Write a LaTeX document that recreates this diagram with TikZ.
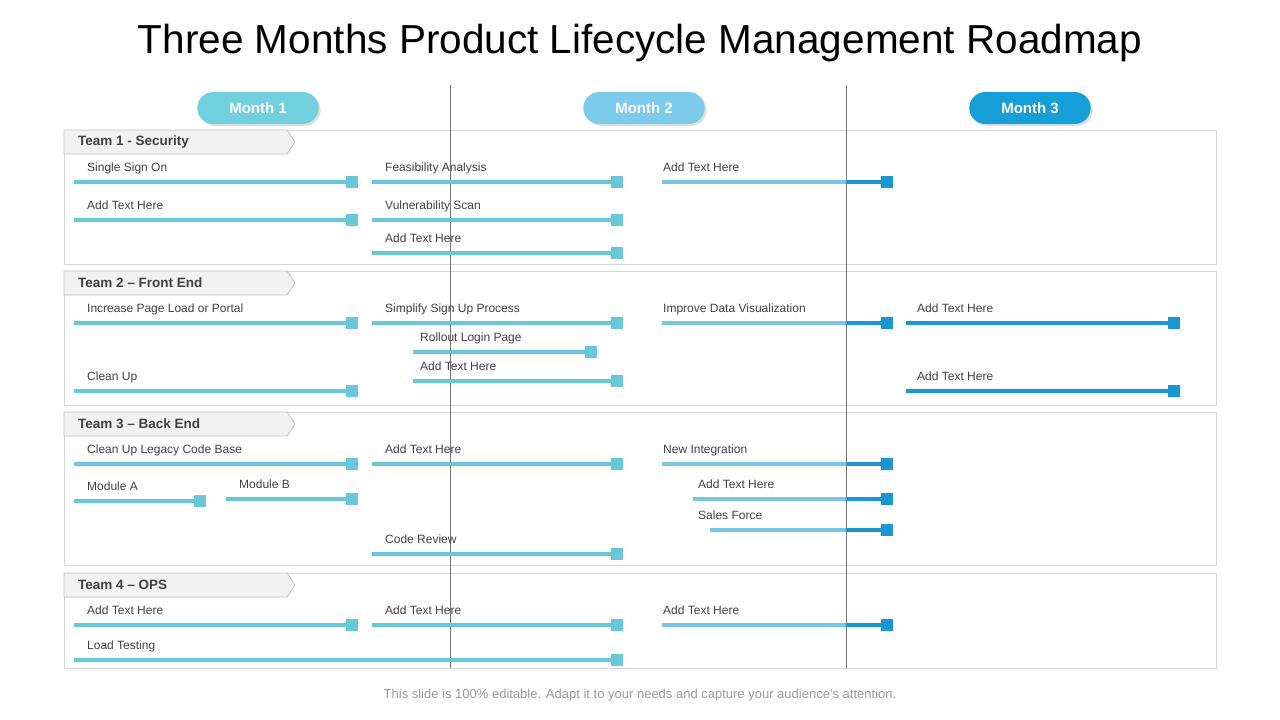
\documentclass[tikz,border=0pt]{standalone}
\usepackage{fontspec}
\setmainfont{Liberation Sans}
\usetikzlibrary{shadows,shapes.misc}
\definecolor{barlight}{RGB}{104,200,218}
\definecolor{barmid}{RGB}{120,198,230}
\definecolor{bardark}{RGB}{26,150,208}
\definecolor{pillone}{RGB}{112,208,222}
\definecolor{pilltwo}{RGB}{125,203,234}
\definecolor{pillthree}{RGB}{22,158,214}
\definecolor{framegray}{RGB}{215,215,215}
\definecolor{textgray}{RGB}{64,64,64}
\tikzset{
  lbl/.style={anchor=base west,inner sep=0pt,text=textgray,font=\fontsize{12}{12}\selectfont},
  pill/.style={rounded rectangle,minimum width=128,minimum height=32,text=white,
    font=\bfseries\fontsize{15}{15}\selectfont,drop shadow={shadow xshift=2pt,shadow yshift=-2pt,opacity=0.25}},
  teambox/.style={draw=framegray,line width=1pt},
  tag/.style={fill=black!5,draw=black!25,line width=0.8pt}
}
% bar: x1, x2, y, label x, label
\newcommand{\rbar}[6][barlight]{%
  \fill[#1] (#2,#4-2) rectangle (#3-6,#4+2);
  \fill[#1] (#3-6,#4-6) rectangle (#3+6,#4+6);
  \node[lbl] (l#2x#4) at (#5,#4-11) {#6};}
\newcommand{\mbar}[5]{%
  \fill[barmid] (#1,#3-2) rectangle (846,#3+2);
  \fill[bardark] (846,#3-2) rectangle (#2-6,#3+2);
  \fill[bardark] (#2-6,#3-6) rectangle (#2+6,#3+6);
  \node[lbl] (m#1x#3) at (#4,#3-11) {#5};}
\newcommand{\teamtag}[2]{%
  \draw[tag] (64,#1) -- (287,#1) -- (295,#1+12) -- (287,#1+24) -- (64,#1+24) -- cycle;
  \node[anchor=west,inner sep=0pt,text=textgray,font=\bfseries\fontsize{13.5}{13.5}\selectfont] (t#1) at (78,#1+12) {#2};}
\begin{document}
\begin{tikzpicture}[x=1pt,y=-1pt]
\useasboundingbox (0,0) rectangle (1280,720);
\node[font=\fontsize{40.5}{40.5}\selectfont,text=black] (title) at (640,43) {Three Months Product Lifecycle Management Roadmap};
% frames
\draw[teambox] (64,130) rectangle (1216,264);
\draw[teambox] (64,271) rectangle (1216,405);
\draw[teambox] (64,412) rectangle (1216,565);
\draw[teambox] (64,573) rectangle (1216,668);
\draw[black!55,line width=1pt] (450,85) -- (450,668) (846,85) -- (846,668);
\node[pill,fill=pillone] (m1) at (258,108) {Month 1};
\node[pill,fill=pilltwo] (m2) at (644,108) {Month 2};
\node[pill,fill=pillthree] (m3) at (1030,108) {Month 3};
\teamtag{130}{Team 1 - Security}
\teamtag{271}{Team 2 – Front End}
\teamtag{412}{Team 3 – Back End}
\teamtag{573}{Team 4 – OPS}
% team 1
\rbar{74}{352}{182}{87}{Single Sign On}
\rbar{74}{352}{220}{87}{Add Text Here}
\rbar{372}{617}{182}{385}{Feasibility Analysis}
\rbar{372}{617}{220}{385}{Vulnerability Scan}
\rbar{372}{617}{253}{385}{Add Text Here}
\mbar{662}{887}{182}{663}{Add Text Here}
% team 2
\rbar{74}{352}{323}{87}{Increase Page Load or Portal}
\rbar{74}{352}{391}{87}{Clean Up}
\rbar{372}{617}{323}{385}{Simplify Sign Up Process}
\rbar{413}{591}{352}{420}{Rollout Login Page}
\rbar{413}{617}{381}{420}{Add Text Here}
\mbar{662}{887}{323}{663}{Improve Data Visualization}
\rbar[bardark]{906}{1174}{323}{917}{Add Text Here}
\rbar[bardark]{906}{1174}{391}{917}{Add Text Here}
% team 3
\rbar{74}{352}{464}{87}{Clean Up Legacy Code Base}
\rbar{74}{200}{501}{87}{Module A}
\rbar{226}{352}{499}{239}{Module B}
\rbar{372}{617}{464}{385}{Add Text Here}
\rbar{372}{617}{554}{385}{Code Review}
\mbar{662}{887}{464}{663}{New Integration}
\mbar{693}{887}{499}{698}{Add Text Here}
\mbar{710}{887}{530}{698}{Sales Force}
% team 4
\rbar{74}{352}{625}{87}{Add Text Here}
\rbar{74}{617}{660}{87}{Load Testing}
\rbar{372}{617}{625}{385}{Add Text Here}
\mbar{662}{887}{625}{663}{Add Text Here}
\node[text=black!40,font=\fontsize{13}{13}\selectfont] (foot) at (640,695) {This slide is 100\% editable. Adapt it to your needs and capture your audience’s attention.};
\end{tikzpicture}
\end{document}
